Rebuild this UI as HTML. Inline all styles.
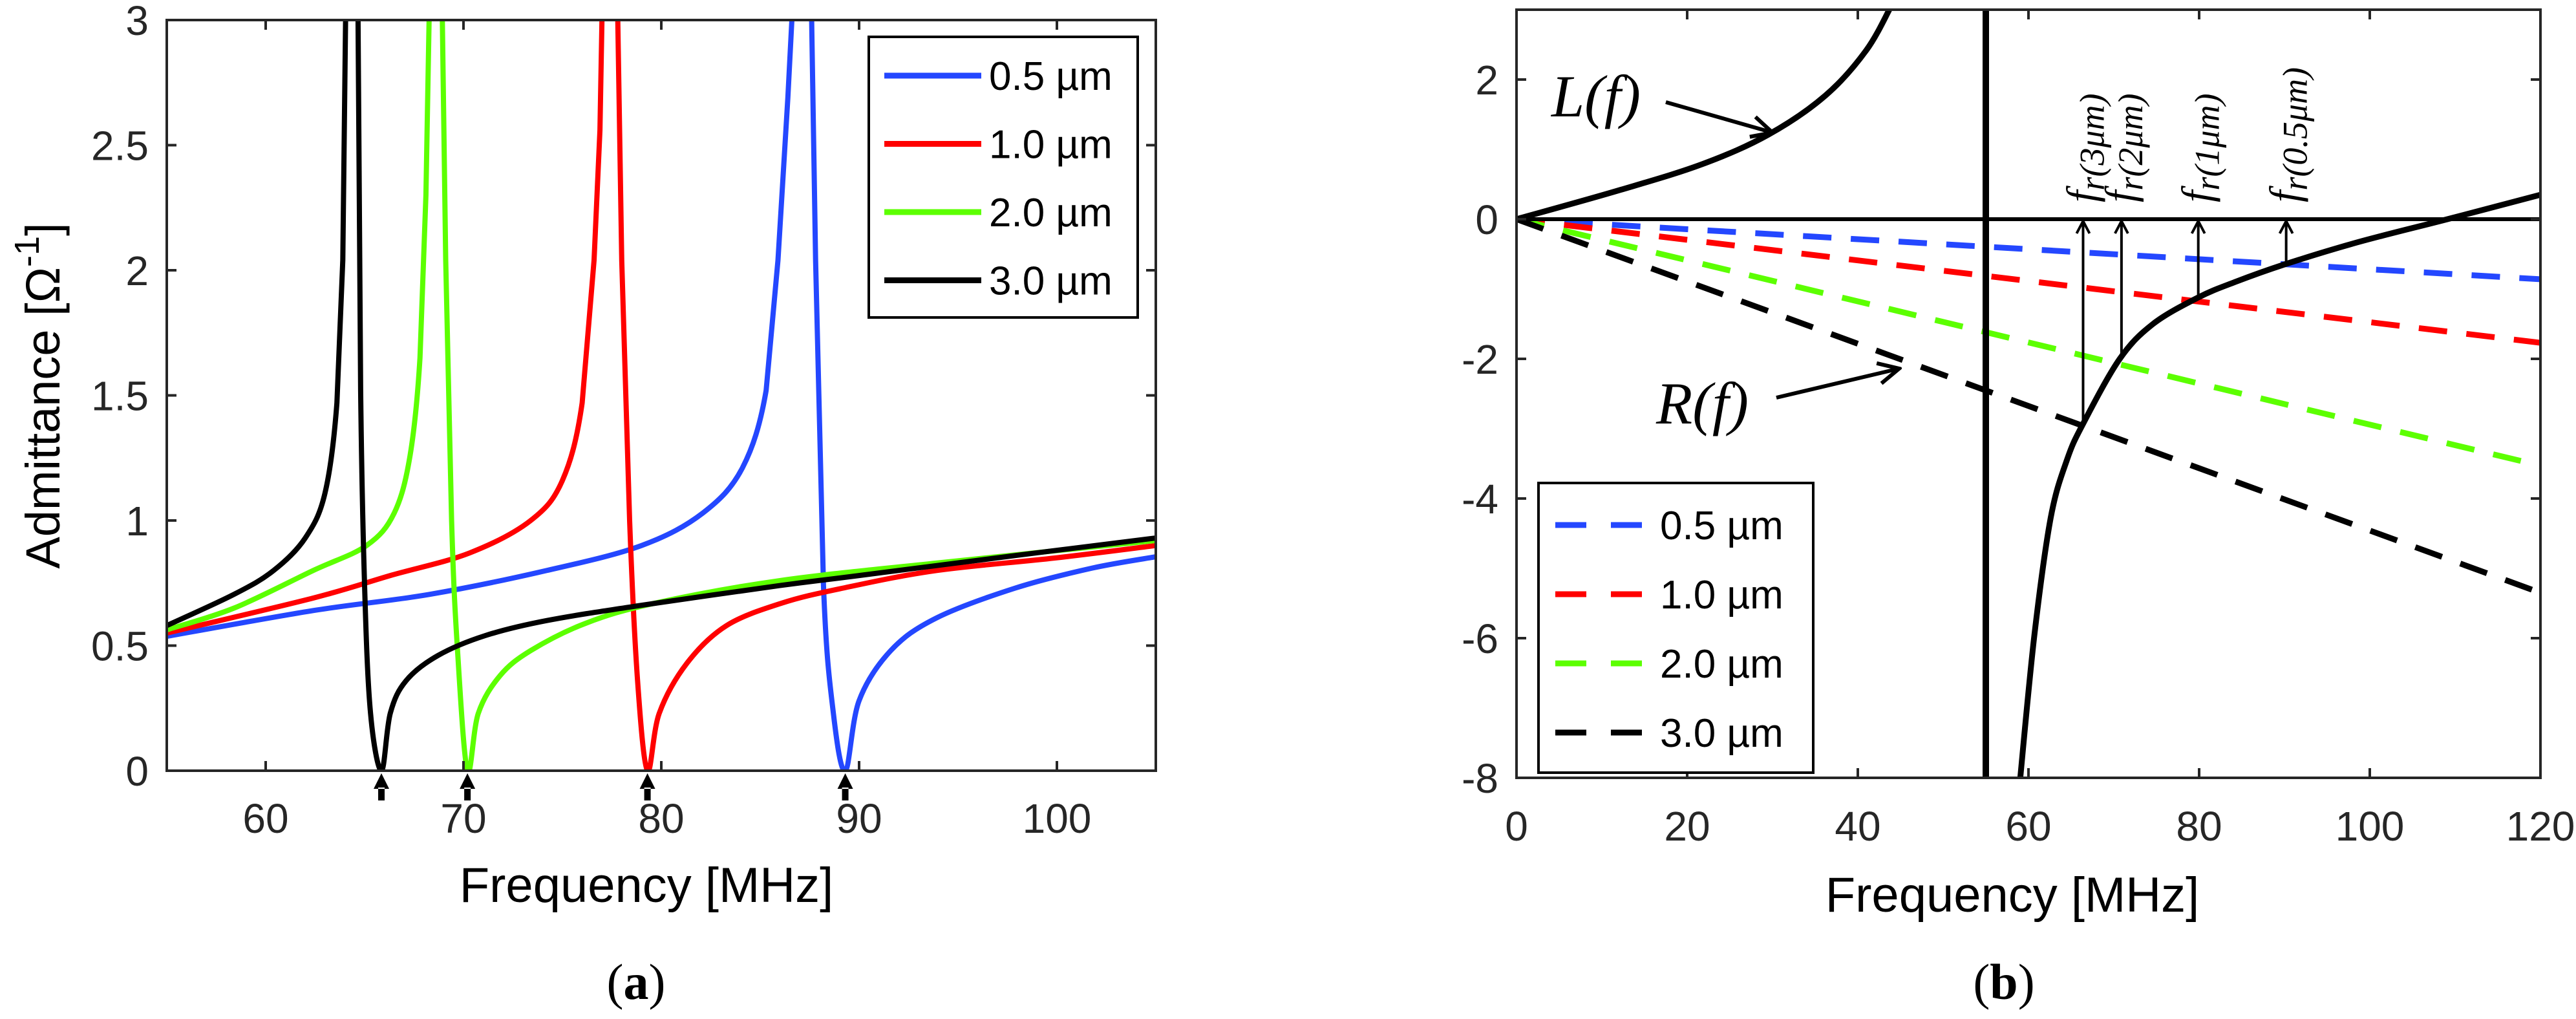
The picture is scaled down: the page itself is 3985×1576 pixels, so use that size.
<!DOCTYPE html>
<html><head><meta charset="utf-8"><style>
html,body{margin:0;padding:0;background:#fff;}
svg{display:block;font-family:"Liberation Sans",sans-serif;}
</style></head><body>
<svg id="fig" width="3985" height="1576" viewBox="0 0 3985 1576" xmlns="http://www.w3.org/2000/svg">
<defs>
<clipPath id="clipA"><rect x="258" y="31" width="1530" height="1161"/></clipPath>
<clipPath id="clipB"><rect x="2346" y="15" width="1584" height="1188"/></clipPath>
<marker id="ah" viewBox="0 0 24 24" refX="21" refY="12" markerWidth="24" markerHeight="24" markerUnits="userSpaceOnUse" orient="auto"><path d="M2,2 L21,12 L2,22" fill="none" stroke="#000" stroke-width="4"/></marker>
<marker id="ah2" viewBox="0 0 40 40" refX="36" refY="20" markerWidth="40" markerHeight="40" markerUnits="userSpaceOnUse" orient="auto"><path d="M4,4 L36,20 L4,36" fill="none" stroke="#000" stroke-width="6"/></marker>
</defs>
<g id="chartA"></g>
<g id="chartB"></g>
</svg>
<script>
// ---------- Chart (a) data ----------
const aXTicks = [60, 70, 80, 90, 100];
const aYTicks = [0, 0.5, 1, 1.5, 2, 2.5, 3];
const aYTickLabels = ["0", "0.5", "1", "1.5", "2", "2.5", "3"];
const aSeriesNames = ["0.5 µm", "1.0 µm", "2.0 µm", "3.0 µm"];
const aColors = ["#2447ff", "#ff0000", "#5cff00", "#000000"];
const aBlueF = [55,62.4,68.3,74.2,79,82.1,84.1,85.3,85.9,86.4,86.6,87.1,87.6,87.8,88.2,88.7,89.3,90,91.6,93.9,97.9,101.8,105];
const aBlueY = [0.537,0.64,0.705,0.8,0.9,1.03,1.21,1.52,2.04,2.69,3.0,9,3.0,2.04,0.74,0.23,0,0.28,0.48,0.61,0.73,0.81,0.855];
const aRedF = [55,62.4,66.3,70.3,73.4,75,76,76.6,76.9,77.0,77.4,77.8,78,78.4,78.8,79.3,79.9,81.3,83.3,86.1,89.2,93.9,99.9,105];
const aRedY = [0.55,0.69,0.78,0.87,1.0,1.16,1.47,2.04,2.56,3.0,9,3.0,2.04,1.0,0.36,0,0.23,0.43,0.58,0.67,0.73,0.8,0.85,0.9];
const aGreenF = [55,58.4,62.4,65.1,66.5,67.3,67.8,68.1,68.26,68.6,68.93,69.1,69.4,69.7,70.2,70.75,71.85,73.4,76.2,79.7,86,93.9,105];
const aGreenY = [0.563,0.65,0.8,0.9,1.03,1.26,1.65,2.3,3.0,9,3.0,2.04,1.0,0.48,0,0.23,0.38,0.48,0.59,0.67,0.76,0.83,0.92];
const aBlackF = [55,58.4,60.4,62,63,63.6,63.9,64.04,64.35,64.67,64.8,65.0,65.3,65.85,66.3,67.1,68.7,71.1,74.2,78.9,86,90,97.9,105];
const aBlackY = [0.58,0.705,0.8,0.93,1.11,1.47,2.04,3.0,9,3.0,1.52,0.74,0.23,0,0.23,0.36,0.46,0.54,0.6,0.66,0.74,0.78,0.86,0.93];
const aMarkerF = [65.85, 70.2, 79.3, 89.3];

// ---------- Chart (b) data ----------
const bXTicks = [0, 20, 40, 60, 80, 100, 120];
const bYTicks = [-8, -6, -4, -2, 0, 2];
const bSeriesNames = ["0.5 µm", "1.0 µm", "2.0 µm", "3.0 µm"];
const bColors = ["#2447ff", "#ff0000", "#5cff00", "#000000"];
const bLineF = [0, 120];
const bLineEnd = [-0.86, -1.77, -3.53, -5.35];
const bLF = [0, 12.2, 21.8, 29.5, 36.2, 41, 43.9];
const bLY = [0, 0.42, 0.79, 1.21, 1.77, 2.42, 3.05];
const bRF = [59, 60.7, 62.6, 64.5, 66.4, 70.7, 74.6, 79.9, 84.2, 89.95, 98.6, 109.1, 120];
const bRY = [-8.05, -5.95, -4.28, -3.45, -2.93, -2.0, -1.5, -1.12, -0.9, -0.65, -0.33, 0, 0.35];
const bPoleF = [55];
const bResF = [66.4, 70.9, 79.9, 90.2];
const bResY = [-2.93, -1.95, -1.12, -0.65];
const bResLabels = ["3μm", "2μm", "1μm", "0.5μm"];

const NS = "http://www.w3.org/2000/svg";
function el(tag, attrs, parent, text) {
  const e = document.createElementNS(NS, tag);
  for (const k in attrs) e.setAttribute(k, attrs[k]);
  if (text !== undefined) e.textContent = text;
  parent.appendChild(e);
  return e;
}
// straightLimit: segments whose both-end values exceed it are drawn straight (avoids overshoot at poles)
function smoothPath(pts, vals, straightLimit) {
  let d = "M" + pts[0][0].toFixed(1) + "," + pts[0][1].toFixed(1);
  for (let i = 0; i < pts.length - 1; i++) {
    const p0 = pts[i - 1] || pts[i], p1 = pts[i], p2 = pts[i + 1], p3 = pts[i + 2] || p2;
    if (vals && (vals[i] >= straightLimit || vals[i + 1] >= straightLimit)) {
      d += "L" + p2[0].toFixed(1) + "," + p2[1].toFixed(1);
      continue;
    }
    const c1 = [p1[0] + (p2[0] - p0[0]) / 6, p1[1] + (p2[1] - p0[1]) / 6];
    const c2 = [p2[0] - (p3[0] - p1[0]) / 6, p2[1] - (p3[1] - p1[1]) / 6];
    d += "C" + c1[0].toFixed(1) + "," + c1[1].toFixed(1) + " " + c2[0].toFixed(1) + "," + c2[1].toFixed(1) + " " + p2[0].toFixed(1) + "," + p2[1].toFixed(1);
  }
  return d;
}
const TICKCOL = "#262626";

// ================= Chart A =================
(function () {
  const g = document.getElementById("chartA");
  const L = 258, R = 1788, T = 31, B = 1192;
  const xA = f => L + (f - 55) / 50 * (R - L);
  const yA = v => B - v / 3 * (B - T);
  const cg = el("g", {"clip-path": "url(#clipA)"}, g);
  
  
  const fs = [aBlueF, aRedF, aGreenF, aBlackF];
  const ys = [aBlueY, aRedY, aGreenY, aBlackY];
  const names = ["series-0-5um", "series-1-0um", "series-2-0um", "series-3-0um"];
  for (let s = 0; s < 4; s++) {
    const pts = fs[s].map((f, i) => [xA(f), yA(ys[s][i])]);
    const p = el("path", {d: smoothPath(pts, ys[s], 1.9), fill: "none", stroke: aColors[s], "stroke-width": 8, "stroke-linejoin": "round"}, cg);
    
    
  }
  const fr = el("rect", {x: L, y: T, width: R - L, height: B - T, fill: "none", stroke: TICKCOL, "stroke-width": 4}, g);
  
  
  aXTicks.forEach(t => {
    const x = xA(t);
    el("line", {x1: x, x2: x, y1: B, y2: B - 15, stroke: TICKCOL, "stroke-width": 4}, g);
    el("line", {x1: x, x2: x, y1: T, y2: T + 15, stroke: TICKCOL, "stroke-width": 4}, g);
    const tx = el("text", {x: x, y: 1288, "font-size": 64, "text-anchor": "middle", fill: TICKCOL}, g, String(t));
    
    
  });
  aYTicks.forEach((t, i) => {
    const y = yA(t);
    el("line", {x1: L, x2: L + 15, y1: y, y2: y, stroke: TICKCOL, "stroke-width": 4}, g);
    el("line", {x1: R, x2: R - 15, y1: y, y2: y, stroke: TICKCOL, "stroke-width": 4}, g);
    const tx = el("text", {x: 230, y: y + 23, "font-size": 64, "text-anchor": "end", fill: TICKCOL}, g, aYTickLabels[i]);
    
    
  });
  aMarkerF.forEach(f => {
    const x = xA(f);
    const m = el("path", {d: `M${x},${B + 4} L${x - 12},${B + 28} L${x + 12},${B + 28} Z M${x - 5},${B + 26} L${x + 5},${B + 26} L${x + 5},${B + 46} L${x - 5},${B + 46} Z`, fill: "#000"}, g);
    
    
  });
  const lg = el("g", {}, g);
  
  
  el("rect", {x: 1344, y: 57, width: 416, height: 434, fill: "#fff", stroke: "#000", "stroke-width": 4}, lg);
  aSeriesNames.forEach((n, i) => {
    const y = 117 + i * 105.5;
    const ln = el("line", {x1: 1368, x2: 1518, y1: y, y2: y, stroke: aColors[i], "stroke-width": 9}, lg);
    
    
    const t = el("text", {x: 1530, y: y + 22, "font-size": 62, fill: "#000"}, lg, n);
    
    
  });
  const yl = el("text", {x: 0, y: 0, "font-size": 74, "text-anchor": "middle", fill: "#000", transform: "translate(92,612) rotate(-90)"}, g);
  
  
  yl.appendChild(document.createTextNode("Admittance [Ω"));
  el("tspan", {dy: -32, "font-size": 54}, yl, "-1");
  el("tspan", {dy: 32}, yl, "]");
  const xl = el("text", {x: 1000, y: 1395, "font-size": 76, "text-anchor": "middle", fill: "#000"}, g, "Frequency [MHz]");
  
  
  const cap = el("text", {x: 984, y: 1545, "font-size": 78, "text-anchor": "middle", "font-family": "Liberation Serif, serif", fill: "#000"}, g);
  
  
  cap.appendChild(document.createTextNode("("));
  el("tspan", {"font-weight": "bold"}, cap, "a");
  cap.appendChild(document.createTextNode(")"));
})();

// ================= Chart B =================
(function () {
  const g = document.getElementById("chartB");
  const L = 2346, R = 3930, T = 15, B = 1203;
  const xB = f => L + f / 120 * (R - L);
  const yB = v => B - (v + 8) / 11 * (B - T);
  const cg = el("g", {"clip-path": "url(#clipB)"}, g);
  
  
  const dn = ["dashed-0-5um", "dashed-1-0um", "dashed-2-0um", "dashed-3-0um"];
  bLineEnd.forEach((v, i) => {
    const ln = el("line", {x1: xB(bLineF[0]), y1: yB(0), x2: xB(bLineF[1]), y2: yB(v), stroke: bColors[i], "stroke-width": 9, "stroke-dasharray": "44 30"}, cg);
    
    
  });
  const z = el("line", {x1: L, x2: R, y1: yB(0), y2: yB(0), stroke: "#000", "stroke-width": 6}, cg);
  
  
  const pole = el("line", {x1: xB(bPoleF[0]), x2: xB(bPoleF[0]), y1: T, y2: B, stroke: "#000", "stroke-width": 10}, cg);
  
  
  const lp = el("path", {d: smoothPath(bLF.map((f, i) => [xB(f), yB(bLY[i])])), fill: "none", stroke: "#000", "stroke-width": 9}, cg);
  
  
  const rp = el("path", {d: smoothPath(bRF.map((f, i) => [xB(f), yB(bRY[i])])), fill: "none", stroke: "#000", "stroke-width": 9}, cg);
  
  
  bResF.forEach((f, i) => {
    const x = xB(f);
    const a = el("line", {x1: x, x2: x, y1: yB(bResY[i]), y2: yB(0) + 3, stroke: "#000", "stroke-width": 4, "marker-end": "url(#ah)"}, g);
    
    
    const t = el("text", {x: 0, y: 0, "font-size": 66, "font-family": "Liberation Serif, serif", "font-style": "italic", transform: `translate(${x + 20},${yB(0) - 26}) rotate(-90)`}, g);
    
    
    t.appendChild(document.createTextNode("f"));
    el("tspan", {"font-size": 54, dy: 12}, t, "r(" + bResLabels[i] + ")");
  });
  const fr = el("rect", {x: L, y: T, width: R - L, height: B - T, fill: "none", stroke: TICKCOL, "stroke-width": 4}, g);
  
  
  bXTicks.forEach(t => {
    const x = xB(t);
    el("line", {x1: x, x2: x, y1: B, y2: B - 15, stroke: TICKCOL, "stroke-width": 4}, g);
    el("line", {x1: x, x2: x, y1: T, y2: T + 15, stroke: TICKCOL, "stroke-width": 4}, g);
    const tx = el("text", {x: x, y: 1300, "font-size": 64, "text-anchor": "middle", fill: TICKCOL}, g, String(t));
    
    
  });
  bYTicks.forEach(t => {
    const y = yB(t);
    el("line", {x1: L, x2: L + 15, y1: y, y2: y, stroke: TICKCOL, "stroke-width": 4}, g);
    el("line", {x1: R, x2: R - 15, y1: y, y2: y, stroke: TICKCOL, "stroke-width": 4}, g);
    const tx = el("text", {x: 2318, y: y + 23, "font-size": 64, "text-anchor": "end", fill: TICKCOL}, g, String(t));
    
    
  });
  const la = el("text", {x: 2400, y: 180, "font-size": 92, "font-family": "Liberation Serif, serif", "font-style": "italic"}, g, "L(f)");
  
  
  const laa = el("line", {x1: 2577, y1: 158, x2: 2742, y2: 205, stroke: "#000", "stroke-width": 6, "marker-end": "url(#ah2)"}, g);
  
  
  const ra = el("text", {x: 2562, y: 655, "font-size": 92, "font-family": "Liberation Serif, serif", "font-style": "italic"}, g, "R(f)");
  
  
  const raa = el("line", {x1: 2748, y1: 615, x2: 2938, y2: 570, stroke: "#000", "stroke-width": 6, "marker-end": "url(#ah2)"}, g);
  
  
  const lg = el("g", {}, g);
  
  
  el("rect", {x: 2380, y: 747, width: 425, height: 448, fill: "#fff", stroke: "#000", "stroke-width": 4}, lg);
  bSeriesNames.forEach((n, i) => {
    const y = 812 + i * 107;
    const ln = el("line", {x1: 2406, x2: 2540, y1: y, y2: y, stroke: bColors[i], "stroke-width": 9, "stroke-dasharray": "48 38"}, lg);
    
    
    const t = el("text", {x: 2568, y: y + 22, "font-size": 62, fill: "#000"}, lg, n);
    
    
  });
  const xl = el("text", {x: 3113, y: 1410, "font-size": 76, "text-anchor": "middle", fill: "#000"}, g, "Frequency [MHz]");
  
  
  const cap = el("text", {x: 3100, y: 1545, "font-size": 78, "text-anchor": "middle", "font-family": "Liberation Serif, serif", fill: "#000"}, g);
  
  
  cap.appendChild(document.createTextNode("("));
  el("tspan", {"font-weight": "bold"}, cap, "b");
  cap.appendChild(document.createTextNode(")"));
})();
</script>
</body></html>
